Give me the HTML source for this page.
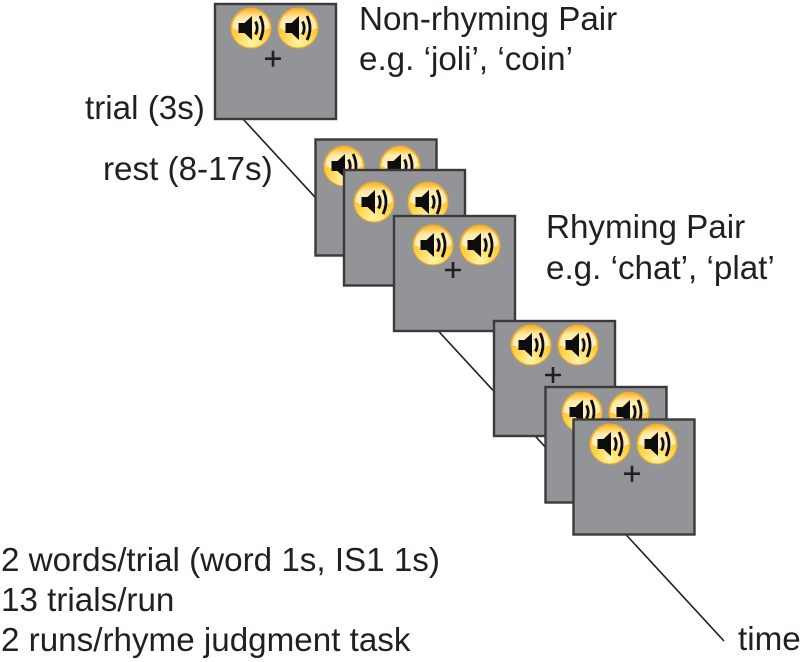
<!DOCTYPE html>
<html><head><meta charset="utf-8"><style>
html,body{margin:0;padding:0;background:#fff}
svg{display:block}
text{font-family:"Liberation Sans",Arial,sans-serif;font-size:33.2px;fill:#231f20}
.b{fill:#929497;stroke:#3a3a3c;stroke-width:2.4}
.p{stroke:#231f20;stroke-width:2.6;fill:none}
</style></head><body>
<svg width="800" height="662" viewBox="0 0 800 662" xmlns="http://www.w3.org/2000/svg">
<defs>
<radialGradient id="g" cx="50%" cy="88%" r="80%">
<stop offset="0" stop-color="#fff3a8"/><stop offset=".55" stop-color="#ffd246"/><stop offset="1" stop-color="#fab428"/>
</radialGradient>
<linearGradient id="h" x1="0" y1="0" x2="0" y2="1">
<stop offset="0" stop-color="#fdb92e" stop-opacity=".9"/><stop offset=".35" stop-color="#fff3c0" stop-opacity=".85"/><stop offset="1" stop-color="#fff" stop-opacity=".7"/>
</linearGradient>
<g id="s">
<circle r="20" fill="url(#g)" stroke="#f2ab24" stroke-width="1"/>
<path d="M-18.500,0 A18.500,18.500 0 0 1 18.500,0 Q0,9 -18.500,0Z" fill="url(#h)"/>
<path d="M-12.500,-5H-6.500L1,-12V12L-6.500,5H-12.500Z" fill="#0d0d0d"/>
<path d="M4.500,-6.500Q8,0 4.500,6.500M9,-12Q15,0 9,12" fill="none" stroke="#0d0d0d" stroke-width="2.8"/>
</g>
</defs>
<line x1="243" y1="119" x2="724" y2="641" stroke="#231f20" stroke-width="1.6"/>

<rect class="b" x="215" y="4" width="121" height="115"/>
<use href="#s" x="251" y="28"/><use href="#s" x="298" y="28"/>
<path class="p" d="M265,58.700H281M273,50.700V66.700"/>

<rect class="b" x="315.500" y="139.500" width="121" height="116"/>
<use href="#s" x="344" y="166"/><use href="#s" x="400" y="166"/>

<rect class="b" x="344" y="170" width="121" height="115.500"/>
<use href="#s" x="374" y="202"/><use href="#s" x="428" y="202"/>

<rect class="b" x="394" y="216" width="121" height="115"/>
<use href="#s" x="433" y="245"/><use href="#s" x="480" y="245"/>
<path class="p" d="M445,270H461M453,262V278"/>

<rect class="b" x="494" y="321" width="121" height="115"/>
<use href="#s" x="531" y="345"/><use href="#s" x="578" y="345"/>
<path class="p" d="M545,375H561M553,367V383"/>

<rect class="b" x="545.500" y="387" width="121" height="115.500"/>
<use href="#s" x="582" y="412"/><use href="#s" x="629" y="412"/>

<rect class="b" x="573.500" y="419.500" width="121" height="115"/>
<use href="#s" x="610" y="444"/><use href="#s" x="657" y="444"/>
<path class="p" d="M624,473.700H640M632,465.700V481.700"/>

<text x="359" y="30">Non-rhyming Pair</text>
<text x="359" y="70">e.g. ‘joli’, ‘coin’</text>
<text x="85" y="119">trial (3s)</text>
<text x="103" y="180">rest (8-17s)</text>
<text x="546" y="238">Rhyming Pair</text>
<text x="546" y="279">e.g. ‘chat’, ‘plat’</text>
<text x="1" y="571">2 words/trial (word 1s, IS1 1s)</text>
<text x="1" y="611">13 trials/run</text>
<text x="1" y="651">2 runs/rhyme judgment task</text>
<text x="738" y="650">time</text>
</svg>
</body></html>
